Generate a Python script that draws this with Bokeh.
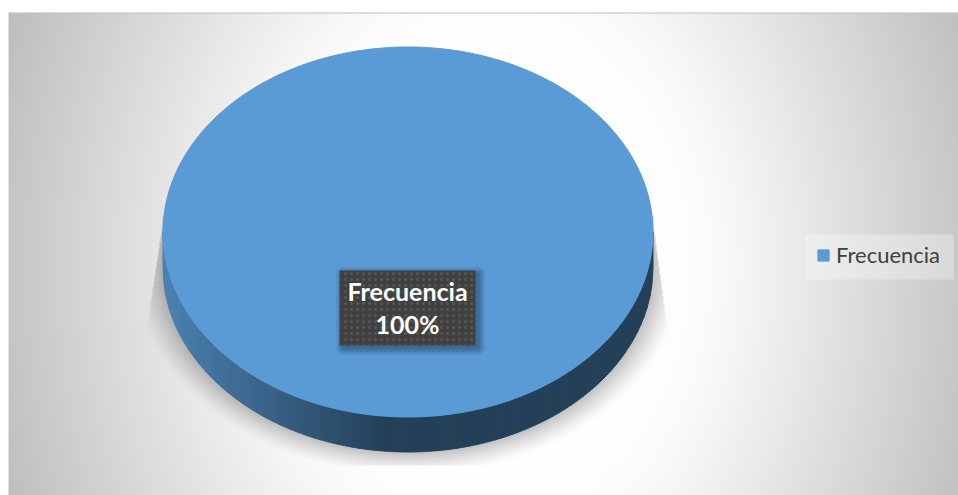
import numpy as np
from bokeh.plotting import figure
from bokeh.models import Range1d, Legend, LegendItem, ColumnDataSource
from bokeh.core.properties import value
from bokeh.embed import file_html
from bokeh.resources import INLINE

categories = ["Frecuencia"]
values = [100]
label_lines = ["Frecuencia", "100%"]

W, H = 958, 495
CX, CY, RX, RY, DEPTH = 407.5, 231.5, 245, 185, 35
def Y(py):
    return H - np.asarray(py, dtype=float)

p = figure(width=W, height=H, x_range=Range1d(0, W), y_range=Range1d(0, H),
           output_backend="svg", toolbar_location=None, min_border=0,
           outline_line_color=None, background_fill_color="white", border_fill_color="white")
p.axis.visible = False
p.grid.visible = False

# background: radial grey gradient and the pie's cast shadow
xs, ys = np.meshgrid(np.arange(W) + .5, np.arange(H) + .5)
r = np.hypot((xs - 490) / 470, (ys - 265) / 617)
d = r - 0.45
grey = 255 - 100 * 0.5 * (d + np.sqrt(d * d + 0.004))
e = np.sqrt(((xs - CX) / RX) ** 2 + ((ys - (CY + DEPTH)) / RY) ** 2)
sh = 0.24 * np.clip(1 - (e - 1) / 0.125, 0, 1) ** 1.3
t = (ys - 225) / 105
xl = 162 - 16 * np.clip(t, 0, 1)
xr = 653 + 14 * np.clip(t, 0, 1)
mask = (ys > 215) & (ys < 465) & (xs > xl) & (xs < xr)
sh = sh * mask
grey = grey * (1 - sh)
grey[(xs < 8) | (ys < 12)] = 255
grey[(ys >= 12) & (ys < 13) & (xs >= 8)] = 190
bg = np.zeros((H, W), dtype=np.uint32)
v = bg.view(np.uint8).reshape(H, W, 4)
v[..., 0] = v[..., 1] = v[..., 2] = grey.astype(np.uint8)
v[..., 3] = 255
p.image_rgba(image=[bg[::-1]], x=0, y=0, dw=W, dh=H)

# legend panel
p.quad(left=805, right=953, bottom=float(Y(279)), top=float(Y(234)), fill_color="white", fill_alpha=0.3, line_color=None)

# pie: angle of each slice from the values
share = values[0] / sum(values)
theta = np.linspace(0, 2 * np.pi * share, 361)
top_x = CX + RX * np.cos(theta)
top_y = Y(CY + RY * np.sin(theta))

# extruded side, shaded from left to right
edges = np.linspace(CX - RX, CX + RX, 161)
sx, sy, sc = [], [], []
c0, c1 = np.array([0x4C, 0x82, 0xB2]), np.array([0x24, 0x40, 0x58])
for a, b in zip(edges[:-1], edges[1:]):
    xx = np.linspace(a, b, 4)
    el = CY + RY * np.sqrt(np.clip(1 - ((xx - CX) / RX) ** 2, 0, 1))
    sx.append(list(xx) + list(xx[::-1]))
    sy.append(list(Y(el)) + list(Y((el + DEPTH)[::-1])))
    f = np.clip(((a + b) / 2 - (CX - RX)) / 225, 0, 1)
    c = (c0 + (c1 - c0) * f).astype(int)
    sc.append("#%02x%02x%02x" % tuple(c))
p.patches(sx, sy, fill_color=sc, line_color=sc, line_width=1)

top = p.patch(top_x, top_y, fill_color="#5B9BD5", line_color="#5B9BD5", line_width=1)

# data label: soft shadow, box, text
bx0, bx1, by0, by1 = 339, 475, 270, 345
lx, ly = np.meshgrid(np.arange(bx0 - 6, bx1 + 16) + .5, np.arange(by0 - 6, by1 + 16) + .5)
dx = np.maximum(np.maximum((bx0 + 3) - lx, lx - (bx1 + 3)), 0)
dy = np.maximum(np.maximum((by0 + 3) - ly, ly - (by1 + 3)), 0)
al = np.clip(1 - np.hypot(dx, dy) / 7, 0, 1) * 0.55
im = np.zeros(lx.shape, dtype=np.uint32)
w = im.view(np.uint8).reshape(lx.shape[0], lx.shape[1], 4)
w[..., 0], w[..., 1], w[..., 2] = 0x22, 0x44, 0x66
w[..., 3] = (al * 255).astype(np.uint8)
p.image_rgba(image=[im[::-1]], x=bx0 - 6, y=float(Y(by1 + 16)), dw=lx.shape[1], dh=lx.shape[0])
p.quad(left=bx0, right=bx1, bottom=float(Y(by1)), top=float(Y(by0)), fill_color="#404040", line_color=None,
       hatch_pattern="dot", hatch_color="#565656", hatch_scale=6, hatch_weight=1.2)
src = ColumnDataSource(dict(x=[407, 407], y=Y([290, 323]), t=label_lines))
p.text("x", "y", text="t", source=src, text_color="white", text_font=value("Lato"), text_font_style="bold",
       text_font_size="25px", text_align="center", text_baseline="middle")

# legend
legend = Legend(items=[LegendItem(label=categories[0], renderers=[top])], location=(816, H - 268),
                background_fill_alpha=0, border_line_color=None,
                label_text_font="Lato", label_text_font_size="22px", label_text_color="#404040",
                glyph_width=14, glyph_height=14, padding=0, margin=0, label_standoff=6, spacing=0)
p.add_layout(legend)

open("out.html", "w").write(file_html(p, INLINE))
